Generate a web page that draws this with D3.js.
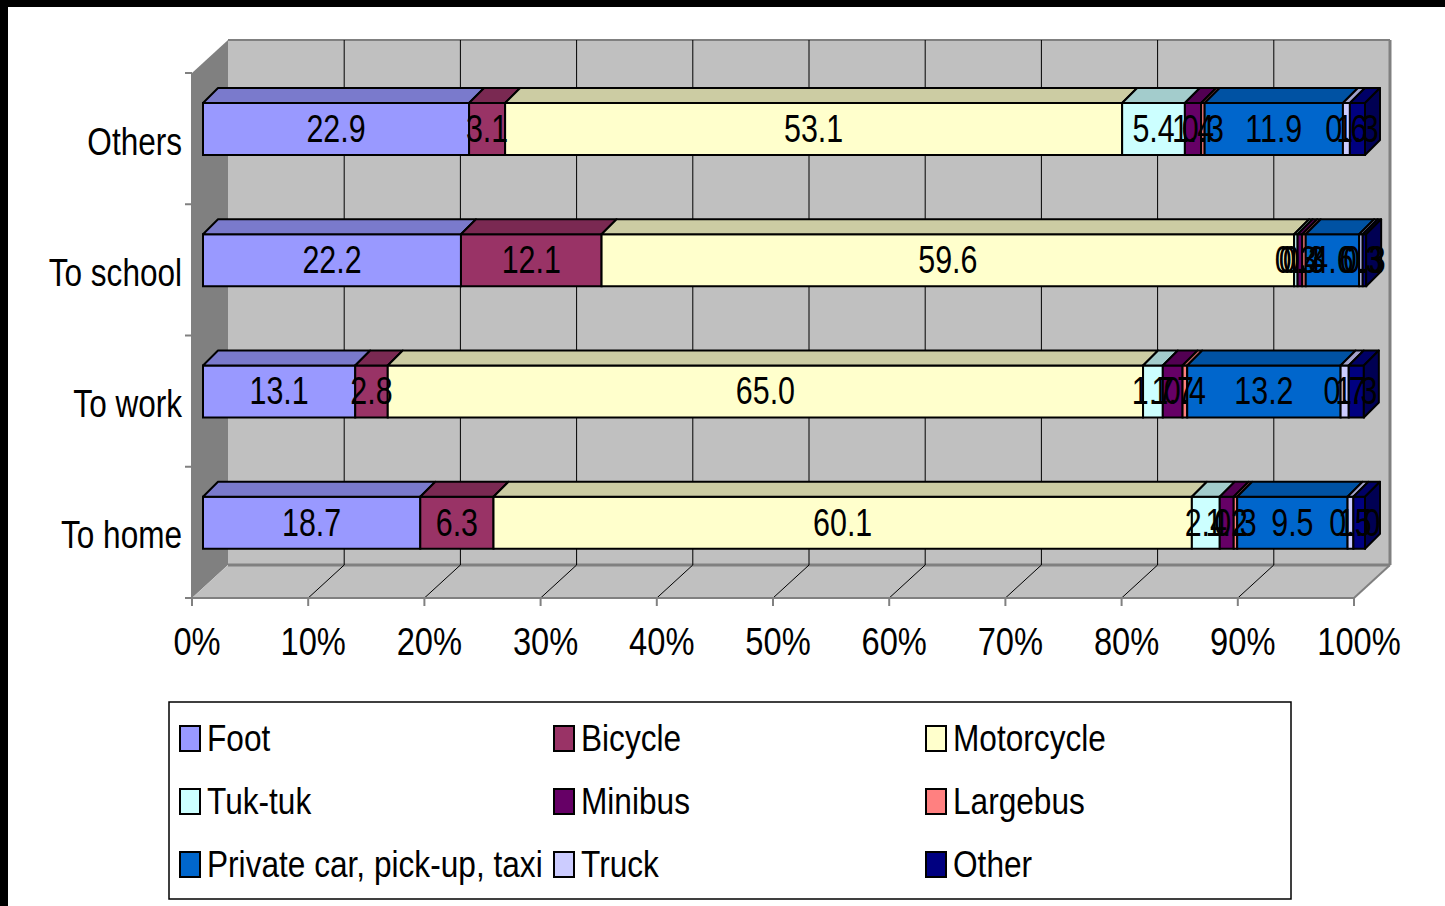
<!DOCTYPE html>
<html>
<head>
<meta charset="utf-8">
<script src="https://cdn.jsdelivr.net/npm/d3@7"></script>
<style>
body { margin: 0; background: #fff; }
text { font-family: "Liberation Sans", Arial, sans-serif; fill: #000; }
</style>
</head>
<body>
<div id="chart"></div>
<script>

// categories, top to bottom as drawn
var categories = ["Others", "To school", "To work", "To home"];

// one array per mode of transport, same order as categories
var foot       = [22.9, 22.2, 13.1, 18.7];
var bicycle    = [3.1, 12.1, 2.8, 6.3];
var motorcycle = [53.1, 59.6, 65.0, 60.1];
var tuktuk     = [5.4, 0.3, 1.7, 2.4];
var minibus    = [1.4, 0.4, 1.7, 1.2];
var largebus   = [0.3, 0.3, 0.4, 0.3];
var privateCar = [11.9, 4.6, 13.2, 9.5];
var truck      = [0.6, 0.3, 0.7, 0.5];
var other      = [1.3, 0.3, 1.3, 1.0];

var seriesNames = ["Foot", "Bicycle", "Motorcycle", "Tuk-tuk", "Minibus", "Largebus",
	"Private car, pick-up, taxi", "Truck", "Other"];
var seriesValues = [foot, bicycle, motorcycle, tuktuk, minibus, largebus, privateCar, truck, other];
var seriesColors = ["#9999ff", "#993366", "#ffffcc", "#ccffff", "#660066", "#ff8080",
	"#0066cc", "#ccccff", "#000080"];

var tickValues = [0, 10, 20, 30, 40, 50, 60, 70, 80, 90, 100];


var width = 1445, height = 906;

var svg = d3.select("#chart").append("svg")
	.attr("width", width)
	.attr("height", height);

// frame of the 3d box
var frontLeft = 192, frontRight = 1354, floorY = 598, frontTop = 73;
var depthX = 36, depthY = -33;   // wall depth
var barShiftX = 12;              // bars sit a bit behind the front plane
var barDX = 15, barDY = -15;     // bar thickness
var barOffset = 30, barH = 52;

var x = d3.scaleLinear().domain([0, 100]).range([frontLeft, frontRight]);
var xBar = d3.scaleLinear().domain([0, 100]).range([frontLeft + barShiftX - 1, frontRight + barShiftX - 1]);
var y = d3.scaleBand().domain(categories).range([frontTop, floorY]);

function shade(c, k) {
	var r = d3.rgb(c);
	return d3.rgb(r.r * k, r.g * k, r.b * k).formatHex();
}
function pts(a) { return a.map(function(p) { return p.join(","); }).join(" "); }

// no narrow font installed, so squash the glyphs; x is given in screen pixels
function narrowText(sel, fx, k) {
	sel.attr("x", function(d, i) { return fx(d, i) / k; })
		.attr("transform", "scale(" + k + ",1)");
}

// black edge of the picture
svg.append("rect").attr("x", 0).attr("y", 0).attr("width", width).attr("height", 7).attr("fill", "#000");
svg.append("rect").attr("x", 0).attr("y", 0).attr("width", 8).attr("height", height).attr("fill", "#000");

// walls
var walls = svg.append("g").attr("class", "walls");
walls.append("polygon")
	.attr("points", pts([[frontLeft, frontTop], [frontLeft + depthX, frontTop + depthY],
		[frontLeft + depthX, floorY + depthY], [frontLeft, floorY]]))
	.attr("fill", "#808080");
walls.append("rect")
	.attr("x", frontLeft + depthX).attr("y", frontTop + depthY)
	.attr("width", frontRight - frontLeft).attr("height", floorY - frontTop)
	.attr("fill", "#c0c0c0");
walls.append("polygon")
	.attr("points", pts([[frontLeft, floorY], [frontLeft + depthX, floorY + depthY],
		[frontRight + depthX, floorY + depthY], [frontRight, floorY]]))
	.attr("fill", "#c0c0c0");

// gridlines on back wall and floor
var grid = svg.append("g").attr("class", "grid");
grid.selectAll("line.back")
	.data(tickValues.slice(1, -1))
	.enter().append("line")
	.attr("class", "back")
	.attr("x1", function(d) { return x(d) + depthX; })
	.attr("x2", function(d) { return x(d) + depthX; })
	.attr("y1", frontTop + depthY)
	.attr("y2", floorY + depthY)
	.attr("stroke", "#000").attr("stroke-width", 1);
grid.selectAll("line.floor")
	.data(tickValues.slice(1, -1))
	.enter().append("line")
	.attr("class", "floor")
	.attr("x1", function(d) { return x(d); })
	.attr("x2", function(d) { return x(d) + depthX; })
	.attr("y1", floorY)
	.attr("y2", floorY + depthY)
	.attr("stroke", "#000").attr("stroke-width", 1);

// wall edges
var edges = [
	[frontLeft + depthX, frontTop + depthY, frontRight + depthX, frontTop + depthY, 2],
	[frontRight + depthX, frontTop + depthY, frontRight + depthX, floorY + depthY, 3],
	[frontLeft + depthX, floorY + depthY, frontRight + depthX, floorY + depthY, 3],
	[frontRight + depthX, floorY + depthY, frontRight, floorY, 2]
];
walls.selectAll("line.edge")
	.data(edges)
	.enter().append("line")
	.attr("x1", function(d) { return d[0]; }).attr("y1", function(d) { return d[1]; })
	.attr("x2", function(d) { return d[2]; }).attr("y2", function(d) { return d[3]; })
	.attr("stroke", "#808080").attr("stroke-width", function(d) { return d[4]; });

// axes
var axes = svg.append("g").attr("class", "axes");
axes.append("line")
	.attr("x1", frontLeft - 7).attr("x2", frontRight).attr("y1", floorY).attr("y2", floorY)
	.attr("stroke", "#808080").attr("stroke-width", 2);
axes.append("line")
	.attr("x1", frontLeft).attr("x2", frontLeft).attr("y1", frontTop).attr("y2", floorY)
	.attr("stroke", "#808080").attr("stroke-width", 2);
axes.selectAll("line.xtick")
	.data(tickValues)
	.enter().append("line")
	.attr("x1", function(d) { return x(d); }).attr("x2", function(d) { return x(d); })
	.attr("y1", floorY).attr("y2", floorY + 8)
	.attr("stroke", "#808080").attr("stroke-width", 2);
axes.selectAll("line.ytick")
	.data(categories)
	.enter().append("line")
	.attr("x1", frontLeft - 7).attr("x2", frontLeft)
	.attr("y1", function(d) { return y(d); }).attr("y2", function(d) { return y(d); })
	.attr("stroke", "#808080").attr("stroke-width", 2);

axes.selectAll("text.xlab")
	.data(tickValues)
	.enter().append("text")
	.attr("y", 655)
	.attr("text-anchor", "middle")
	.attr("font-size", 38)
	.call(narrowText, function(d) { return x(d) + 5; }, 0.86)
	.text(function(d) { return d + "%"; });

axes.selectAll("text.ylab")
	.data(categories)
	.enter().append("text")
	.attr("y", function(d) { return y(d) + y.bandwidth() / 2 + 16; })
	.attr("text-anchor", "end")
	.attr("font-size", 38)
	.call(narrowText, function() { return 182; }, 0.83)
	.text(function(d) { return d; });

// stacked 3d bars
var bars = svg.append("g").attr("class", "bars");
categories.forEach(function(cat, ci) {
	var top = y(cat) + barOffset;
	var acc = 0;
	var segs = seriesValues.map(function(vals, si) {
		var s = { v: vals[ci], x0: xBar(acc), x1: xBar(acc + vals[ci]), color: seriesColors[si] };
		acc += vals[ci];
		return s;
	});
	var g = bars.append("g");
	segs.forEach(function(s, i) {
		g.append("rect")
			.attr("x", s.x0).attr("y", top)
			.attr("width", Math.max(0, s.x1 - s.x0)).attr("height", barH)
			.attr("fill", s.color).attr("stroke", "#000").attr("stroke-width", 2);
		g.append("polygon")
			.attr("points", pts([[s.x0, top], [s.x0 + barDX, top + barDY], [s.x1 + barDX, top + barDY], [s.x1, top]]))
			.attr("fill", shade(s.color, 0.8)).attr("stroke", "#000").attr("stroke-width", 2)
			.attr("stroke-linejoin", "round");
	});
	var last = segs[segs.length - 1];
	g.append("polygon")
		.attr("points", pts([[last.x1, top], [last.x1 + barDX, top + barDY],
			[last.x1 + barDX, top + barH + barDY], [last.x1, top + barH]]))
		.attr("fill", shade(last.color, 0.65)).attr("stroke", "#000").attr("stroke-width", 2)
		.attr("stroke-linejoin", "round");
	// value labels
	g.selectAll("text")
		.data(segs)
		.enter().append("text")
		.attr("y", top + barH / 2 + 13)
		.attr("text-anchor", "middle")
		.attr("font-size", 38)
		.call(narrowText, function(d) { return (d.x0 + d.x1) / 2; }, 0.8)
		.text(function(d) { return d.v.toFixed(1); });
});

// legend
var legend = svg.append("g").attr("class", "legend");
legend.append("rect")
	.attr("x", 169).attr("y", 702).attr("width", 1122).attr("height", 197)
	.attr("fill", "#fff").attr("stroke", "#000").attr("stroke-width", 1.5);
var colX = [180, 554, 926], rowY = [738, 801, 864];
var item = legend.selectAll("g.item")
	.data(seriesNames)
	.enter().append("g")
	.attr("class", "item")
	.attr("transform", function(d, i) { return "translate(" + colX[i % 3] + "," + rowY[Math.floor(i / 3)] + ")"; });
item.append("rect")
	.attr("x", 0).attr("y", -12).attr("width", 20).attr("height", 25)
	.attr("fill", function(d, i) { return seriesColors[i]; })
	.attr("stroke", "#000").attr("stroke-width", 2);
item.append("text")
	.attr("y", 13)
	.attr("font-size", 37)
	.call(narrowText, function() { return 27; }, 0.855)
	.text(function(d) { return d; });

</script>
</body>
</html>
